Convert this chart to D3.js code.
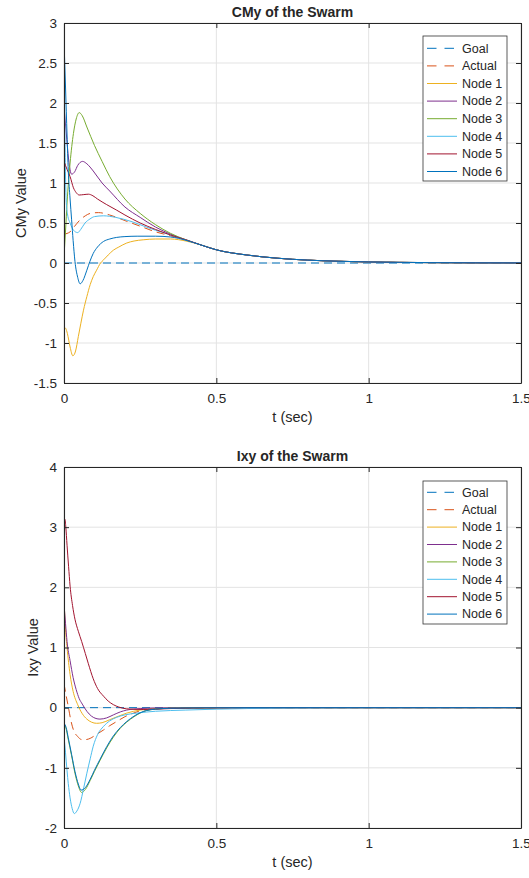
<!DOCTYPE html>
<html lang="en">
<head>
<meta charset="utf-8"/>
<title>CMy and Ixy of the Swarm</title>
<script src="https://d3js.org/d3.v7.min.js"></script>
<style>
  body { margin: 0; background: #fff; }
  svg text { font-family: "Liberation Sans", Arial, Helvetica, sans-serif; fill: #262626; }
</style>
</head>
<body>
<div id="chart"></div>
<script>
// ---- data ----
var tTicks = [0, 0.5, 1, 1.5];
var cmyTicks = [-1.5, -1, -0.5, 0, 0.5, 1, 1.5, 2, 2.5, 3];
var ixyTicks = [-2, -1, 0, 1, 2, 3, 4];
var seriesNames = ["Goal", "Actual", "Node 1", "Node 2", "Node 3", "Node 4", "Node 5", "Node 6"];

// CMy, points are [t, value]
var cmyTail = [[0.45, 0.225], [0.5, 0.165], [0.6, 0.1], [0.7, 0.06], [0.8, 0.036], [0.9, 0.022],
  [1.0, 0.013], [1.1, 0.008], [1.2, 0.005], [1.35, 0.002], [1.5, 0.001]];
var cmyGoal = [[0, 0], [1.5, 0]];
var cmyActual = [[0, 0.36], [0.02, 0.39], [0.035, 0.46], [0.053, 0.54], [0.07, 0.59], [0.086, 0.62],
  [0.113, 0.63], [0.15, 0.6], [0.2, 0.53], [0.25, 0.46], [0.3, 0.39], [0.35, 0.34], [0.4, 0.285]];
var cmyNode1 = [[0, -0.8], [0.006, -0.82], [0.011, -0.88], [0.02, -1.05], [0.029, -1.16], [0.038, -1.1],
  [0.047, -0.92], [0.055, -0.76], [0.064, -0.59], [0.075, -0.42], [0.086, -0.27], [0.096, -0.17],
  [0.107, -0.09], [0.12, 0.0], [0.13, 0.04], [0.145, 0.1], [0.162, 0.16], [0.18, 0.2], [0.206, 0.25],
  [0.23, 0.275], [0.26, 0.29], [0.3, 0.3], [0.35, 0.3], [0.4, 0.275]];
var cmyNode2 = [[0, 1.95], [0.008, 1.6], [0.015, 1.3], [0.025, 1.11], [0.035, 1.14], [0.045, 1.22],
  [0.061, 1.27], [0.075, 1.24], [0.096, 1.15], [0.125, 1.0], [0.15, 0.9], [0.2, 0.7], [0.25, 0.57],
  [0.3, 0.45], [0.35, 0.36], [0.4, 0.29]];
var cmyNode3 = [[0, 0.08], [0.005, 0.4], [0.01, 0.75], [0.02, 1.25], [0.031, 1.62], [0.04, 1.8],
  [0.05, 1.88], [0.06, 1.84], [0.075, 1.7], [0.1, 1.47], [0.125, 1.27], [0.15, 1.08], [0.2, 0.8],
  [0.25, 0.62], [0.3, 0.48], [0.35, 0.37], [0.4, 0.29]];
var cmyNode4 = [[0, 2.75], [0.003, 1.6], [0.007, 0.8], [0.012, 0.6], [0.02, 0.5], [0.031, 0.41],
  [0.045, 0.38], [0.055, 0.42], [0.069, 0.5], [0.085, 0.55], [0.1, 0.58], [0.13, 0.59], [0.17, 0.57],
  [0.22, 0.52], [0.27, 0.45], [0.3, 0.41], [0.35, 0.35], [0.4, 0.285]];
var cmyNode5 = [[0, 1.27], [0.01, 1.17], [0.02, 1.08], [0.031, 0.94], [0.04, 0.88], [0.05, 0.85],
  [0.065, 0.855], [0.08, 0.86], [0.095, 0.84], [0.11, 0.8], [0.14, 0.73], [0.173, 0.66], [0.2, 0.6],
  [0.25, 0.5], [0.3, 0.42], [0.35, 0.35], [0.4, 0.29]];
var cmyNode6 = [[0, 2.78], [0.005, 2.2], [0.01, 1.6], [0.014, 1.16], [0.02, 0.8], [0.025, 0.54],
  [0.03, 0.28], [0.036, 0.02], [0.045, -0.18], [0.053, -0.26], [0.062, -0.22], [0.075, -0.09],
  [0.085, 0.02], [0.096, 0.12], [0.11, 0.2], [0.13, 0.27], [0.15, 0.3], [0.173, 0.32], [0.2, 0.33],
  [0.24, 0.335], [0.3, 0.335], [0.35, 0.325], [0.4, 0.285]];

// Ixy
var ixyGoal = [[0, 0], [1.5, 0]];
var ixyActual = [[0, 0.4], [0.007, 0.2], [0.014, 0.02], [0.022, -0.2], [0.031, -0.37], [0.045, -0.48],
  [0.058, -0.53], [0.072, -0.53], [0.086, -0.51], [0.105, -0.45], [0.13, -0.37], [0.15, -0.3],
  [0.173, -0.23], [0.2, -0.15], [0.228, -0.09], [0.26, -0.04], [0.3, -0.02], [0.35, -0.01],
  [0.45, -0.004], [0.6, -0.001], [1.5, 0]];
var ixyNode1 = [[0, 1.8], [0.005, 1.3], [0.01, 1.0], [0.02, 0.55], [0.03, 0.27], [0.045, 0.05],
  [0.06, -0.1], [0.075, -0.19], [0.09, -0.24], [0.107, -0.26], [0.125, -0.25], [0.15, -0.2],
  [0.18, -0.14], [0.206, -0.09], [0.25, -0.04], [0.3, -0.015], [0.4, -0.004], [0.6, 0], [1.5, 0]];
var ixyNode2 = [[0, 1.72], [0.005, 1.4], [0.01, 1.1], [0.02, 0.78], [0.03, 0.5], [0.04, 0.3],
  [0.05, 0.15], [0.06, 0.06], [0.075, -0.06], [0.09, -0.14], [0.105, -0.18], [0.118, -0.19],
  [0.14, -0.17], [0.162, -0.12], [0.185, -0.07], [0.206, -0.04], [0.25, -0.015], [0.3, -0.005],
  [0.4, 0], [1.5, 0]];
var ixyNode3 = [[0, -0.28], [0.007, -0.35], [0.014, -0.53], [0.025, -0.8], [0.036, -1.09], [0.047, -1.3],
  [0.058, -1.41], [0.07, -1.36], [0.086, -1.21], [0.1, -1.06], [0.118, -0.88], [0.14, -0.67],
  [0.162, -0.49], [0.185, -0.34], [0.206, -0.24], [0.23, -0.15], [0.25, -0.09], [0.27, -0.05],
  [0.3, -0.025], [0.35, -0.01], [0.45, -0.003], [0.6, 0], [1.5, 0]];
var ixyNode4 = [[0, -0.47], [0.005, -0.75], [0.01, -1.05], [0.014, -1.26], [0.02, -1.5], [0.027, -1.68],
  [0.034, -1.76], [0.042, -1.72], [0.053, -1.59], [0.064, -1.35], [0.075, -1.09], [0.086, -0.85],
  [0.096, -0.64], [0.11, -0.45], [0.13, -0.31], [0.15, -0.22], [0.173, -0.16], [0.2, -0.12],
  [0.239, -0.09], [0.3, -0.06], [0.4, -0.04], [0.5, -0.025], [0.6, -0.015], [0.8, -0.005],
  [1.0, -0.002], [1.5, 0]];
var ixyNode5 = [[0, 3.05], [0.003, 3.13], [0.006, 3.0], [0.01, 2.7], [0.015, 2.35], [0.02, 2.02],
  [0.028, 1.7], [0.036, 1.47], [0.047, 1.27], [0.058, 1.1], [0.07, 0.9], [0.08, 0.73], [0.096, 0.48],
  [0.11, 0.32], [0.13, 0.19], [0.145, 0.11], [0.162, 0.05], [0.18, 0.01], [0.206, -0.02],
  [0.26, -0.03], [0.3, -0.025], [0.35, -0.015], [0.45, -0.005], [0.6, 0], [1.5, 0]];
var ixyNode6 = [[0, -0.26], [0.007, -0.33], [0.014, -0.5], [0.025, -0.78], [0.036, -1.06], [0.047, -1.27],
  [0.056, -1.37], [0.07, -1.33], [0.086, -1.19], [0.1, -1.04], [0.118, -0.86], [0.14, -0.65],
  [0.162, -0.47], [0.185, -0.33], [0.206, -0.23], [0.23, -0.14], [0.25, -0.085], [0.27, -0.048],
  [0.3, -0.024], [0.35, -0.01], [0.45, -0.003], [0.6, 0], [1.5, 0]];

// ---- styles ----
var colours = ["#0072BD", "#D95319", "#EDB120", "#7E2F8E", "#77AC30", "#4DBEEE", "#A2142F", "#0072BD"];
var dashed = [true, true, false, false, false, false, false, false];

var w = 529, h = 878;
var left = 64, right = 521;

var svg = d3.select("#chart").append("svg")
  .attr("width", w)
  .attr("height", h);

var x = d3.scaleLinear().domain([0, 1.5]).range([left, right]);

function fmt(d) { return String(d); }

function drawPanel(cfg) {
  var y = d3.scaleLinear().domain(cfg.domain).range([cfg.bottom, cfg.top]);
  var g = svg.append("g");

  // grid
  g.selectAll("line.gx").data(tTicks).enter().append("line")
    .attr("x1", function(d) { return x(d); }).attr("x2", function(d) { return x(d); })
    .attr("y1", cfg.top).attr("y2", cfg.bottom)
    .attr("stroke", "#e3e3e3").attr("stroke-width", 1);
  g.selectAll("line.gy").data(cfg.ticks).enter().append("line")
    .attr("x1", left).attr("x2", right)
    .attr("y1", function(d) { return y(d); }).attr("y2", function(d) { return y(d); })
    .attr("stroke", "#e3e3e3").attr("stroke-width", 1);

  // clip
  svg.append("clipPath").attr("id", cfg.id + "clip").append("rect")
    .attr("x", left).attr("y", cfg.top).attr("width", right - left).attr("height", cfg.bottom - cfg.top);

  var line = d3.line()
    .x(function(d) { return x(d[0]); })
    .y(function(d) { return y(d[1]); })
    .curve(d3.curveMonotoneX);

  var lines = g.append("g").attr("clip-path", "url(#" + cfg.id + "clip)");
  lines.selectAll("path").data(cfg.series).enter().append("path")
    .attr("d", function(d) { return line(d); })
    .attr("fill", "none")
    .attr("stroke", function(d, i) { return colours[i]; })
    .attr("stroke-width", 1)
    .attr("stroke-dasharray", function(d, i) { return dashed[i] ? "8,5" : null; });

  // axes, ticks pointing inward
  var axL = g.append("g").attr("transform", "translate(" + left + ",0)")
    .call(d3.axisLeft(y).tickValues(cfg.ticks).tickSize(-5).tickSizeOuter(0).tickPadding(7).tickFormat(fmt));
  var axR = g.append("g").attr("transform", "translate(" + right + ",0)")
    .call(d3.axisRight(y).tickValues(cfg.ticks).tickSize(-5).tickSizeOuter(0).tickFormat(""));
  var axB = g.append("g").attr("transform", "translate(0," + cfg.bottom + ")")
    .call(d3.axisBottom(x).tickValues(tTicks).tickSize(-5).tickSizeOuter(0).tickPadding(10).tickFormat(fmt));
  var axT = g.append("g").attr("transform", "translate(0," + cfg.top + ")")
    .call(d3.axisTop(x).tickValues(tTicks).tickSize(-5).tickSizeOuter(0).tickFormat(""));
  [axL, axR, axB, axT].forEach(function(a) {
    a.selectAll("path.domain").attr("stroke", "#262626").attr("stroke-width", 1.1);
    a.selectAll(".tick line").attr("stroke", "#262626");
    a.selectAll("text").style("font-size", "13.5px").attr("fill", "#262626");
  });

  // labels
  g.append("text").attr("x", (left + right) / 2).attr("y", cfg.top - 6)
    .attr("text-anchor", "middle").style("font-size", "14px").style("font-weight", "bold")
    .text(cfg.title);
  g.append("text").attr("x", (left + right) / 2).attr("y", cfg.bottom + 39)
    .attr("text-anchor", "middle").style("font-size", "14.5px")
    .text("t (sec)");
  g.append("text")
    .attr("transform", "translate(" + cfg.ylabelX + "," + (cfg.top + cfg.bottom) / 2 + ") rotate(-90)")
    .attr("text-anchor", "middle").style("font-size", "14.5px")
    .text(cfg.ylabel);

  // legend
  var lg = g.append("g");
  lg.append("rect").attr("x", 423).attr("y", cfg.legTop)
    .attr("width", 84).attr("height", cfg.legHeight)
    .attr("fill", "#fff").attr("stroke", "#333").attr("stroke-width", 0.8);
  var rows = lg.selectAll("g.row").data(seriesNames).enter().append("g")
    .attr("transform", function(d, i) { return "translate(0," + (cfg.legFirst + i * cfg.legStep) + ")"; });
  rows.append("line").attr("x1", 427).attr("x2", 457).attr("y1", 0).attr("y2", 0)
    .attr("stroke", function(d, i) { return colours[i]; })
    .attr("stroke-width", 1)
    .attr("stroke-dasharray", function(d, i) { return dashed[i] ? "9.5,8" : null; });
  rows.append("text").attr("x", 462).attr("y", 0).attr("dy", "0.35em")
    .style("font-size", "12.5px").text(function(d) { return d; });
}

drawPanel({
  id: "cmy", title: "CMy of the Swarm", ylabel: "CMy Value", ylabelX: 26,
  domain: [-1.5, 3], ticks: cmyTicks, top: 23, bottom: 383,
  series: [cmyGoal, cmyActual.concat(cmyTail), cmyNode1.concat(cmyTail), cmyNode2.concat(cmyTail),
    cmyNode3.concat(cmyTail), cmyNode4.concat(cmyTail), cmyNode5.concat(cmyTail), cmyNode6.concat(cmyTail)],
  legTop: 36, legHeight: 145, legFirst: 48.3, legStep: 17.6
});

drawPanel({
  id: "ixy", title: "Ixy of the Swarm", ylabel: "Ixy Value", ylabelX: 38,
  domain: [-2, 4], ticks: ixyTicks, top: 467, bottom: 828,
  series: [ixyGoal, ixyActual, ixyNode1, ixyNode2, ixyNode3, ixyNode4, ixyNode5, ixyNode6],
  legTop: 481, legHeight: 143, legFirst: 492.3, legStep: 17.4
});
</script>
</body>
</html>
